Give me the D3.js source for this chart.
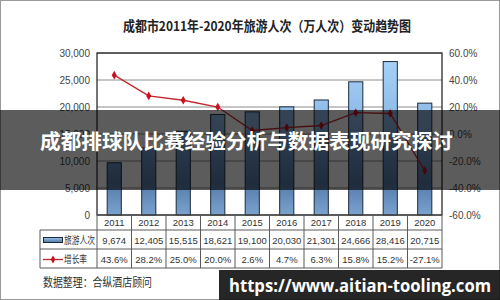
<!DOCTYPE html>
<html><head><meta charset="utf-8">
<script src="https://cdn.jsdelivr.net/npm/d3@7"></script>
<style>html,body{margin:0;padding:0;background:#fff;}svg{display:block;}</style>
</head><body>
<script>
const years = ["2011","2012","2013","2014","2015","2016","2017","2018","2019","2020"];
const visitors = [9674,12405,15515,18621,19100,20030,21301,24666,28416,20715];
const growth = [43.6,28.2,25.0,20.0,2.6,4.7,6.3,15.8,15.2,-27.1];
const leftTicks = [0,5000,10000,15000,20000,25000,30000];
const rightTicks = [-60,-40,-20,0,20,40,60];
const seriesNames = ["旅游人次","增长率"];
const chartTitle = "成都市2011年-2020年旅游人次（万人次）变动趋势图";
const sourceNote = "数据整理：合纵酒店顾问";
const bannerText = "成都排球队比赛经验分析与数据表现研究探讨";
const urlText = "https://www.aitian-tooling.com";

const W = 500, H = 300;
const plot = {l: 97, r: 442, t: 53, b: 215};
const CJK = "'Noto Sans CJK SC','Noto Sans',sans-serif";
const NARROW = "'Liberation Sans Narrow','Liberation Sans',Arial,sans-serif";

const svg = d3.select("body").append("svg").attr("width", W).attr("height", H);
const defs = svg.append("defs");
const grad = defs.append("linearGradient").attr("id","barGrad")
  .attr("gradientUnits","userSpaceOnUse").attr("x1",0).attr("x2",0).attr("y1",plot.t).attr("y2",plot.b);
[[0,"#a9d5fb"],[0.45,"#8ab6e4"],[0.8,"#557ba8"],[1,"#7ba3cf"]].forEach(([o,c]) =>
  grad.append("stop").attr("offset",o).attr("stop-color",c));
const keyGrad = defs.append("linearGradient").attr("id","keyGrad").attr("x1",0).attr("x2",0).attr("y1",0).attr("y2",1);
[[0,"#9cc6ee"],[1,"#4f74a0"]].forEach(([o,c]) => keyGrad.append("stop").attr("offset",o).attr("stop-color",c));

svg.append("rect").attr("x",0.5).attr("y",0.5).attr("width",W-1).attr("height",H-1)
  .attr("fill","#fff").attr("stroke","#9a9a9a");

// title
svg.append("text").attr("x",267).attr("y",31).attr("text-anchor","middle")
  .attr("font-family",CJK).attr("font-weight","bold").attr("font-size",13.5).attr("fill","#222")
  .attr("textLength",288).attr("lengthAdjust","spacingAndGlyphs").text(chartTitle);

const x = d3.scaleBand().domain(years).range([plot.l, plot.r]);
const yL = d3.scaleLinear().domain([0,30000]).range([plot.b, plot.t]);
const yR = d3.scaleLinear().domain([-60,60]).range([plot.b, plot.t]);

// gridlines
svg.append("g").selectAll("line").data(leftTicks).join("line")
  .attr("x1",plot.l).attr("x2",plot.r).attr("y1",d=>yL(d)).attr("y2",d=>yL(d))
  .attr("stroke","#8c8c8c").attr("stroke-width",1);

// axes
const gL = svg.append("g").attr("transform",`translate(${plot.l},0)`)
  .call(d3.axisLeft(yL).tickValues(leftTicks).tickSize(0).tickPadding(7).tickFormat(d3.format(",")));
gL.select(".domain").remove();
gL.selectAll("text").attr("font-family",NARROW).attr("font-size",10).attr("fill","#444");

const gR = svg.append("g").attr("transform",`translate(${plot.r},0)`)
  .call(d3.axisRight(yR).tickValues(rightTicks).tickSize(0).tickPadding(7).tickFormat(d=>d.toFixed(1)+"%"));
gR.select(".domain").remove();
gR.selectAll("text").attr("font-family",NARROW).attr("font-size",10).attr("fill","#444");

// bars
const bw = x.bandwidth()*0.41;
svg.append("g").selectAll("rect").data(visitors).join("rect")
  .attr("x",(d,i)=>x(years[i])+x.bandwidth()/2-bw/2).attr("width",bw)
  .attr("y",d=>yL(d)).attr("height",d=>yL(0)-yL(d))
  .attr("fill","url(#barGrad)").attr("stroke","#1d2b3a").attr("stroke-width",1);

// line
const line = d3.line().x((d,i)=>x(years[i])+x.bandwidth()/2).y(d=>yR(d));
svg.append("path").datum(growth).attr("d",line).attr("fill","none")
  .attr("stroke","#c2262e").attr("stroke-width",1.3);
svg.append("g").selectAll("path").data(growth).join("path")
  .attr("d",d3.symbol(d3.symbolDiamond,22))
  .attr("transform",(d,i)=>`translate(${x(years[i])+x.bandwidth()/2},${yR(d)})`)
  .attr("fill","#c8101e");

// plot frame
svg.append("rect").attr("x",plot.l).attr("y",plot.t).attr("width",plot.r-plot.l).attr("height",plot.b-plot.t)
  .attr("fill","none").attr("stroke","#1a1a1a").attr("stroke-width",1.2);

// data table
const rows = [plot.b, 230, 249, 268];
const tbl = svg.append("g").attr("stroke","#5a5a5a").attr("stroke-width",1);
tbl.append("line").attr("x1",plot.l).attr("x2",plot.r).attr("y1",rows[0]).attr("y2",rows[0]);
[rows[1],rows[2],rows[3]].forEach(y=>tbl.append("line").attr("x1",40).attr("x2",plot.r).attr("y1",y).attr("y2",y));
tbl.append("line").attr("x1",40).attr("x2",40).attr("y1",rows[1]).attr("y2",rows[3]);
years.concat(["end"]).forEach((yv,i)=>{
  const xx = i<years.length ? x(yv) : plot.r;
  tbl.append("line").attr("x1",xx).attr("x2",xx).attr("y1",rows[0]).attr("y2",rows[3]);
});
const cellText = (vals, yc) => svg.append("g").selectAll("text").data(vals).join("text")
  .attr("x",(d,i)=>x(years[i])+x.bandwidth()/2).attr("y",yc).attr("dy","0.35em")
  .attr("text-anchor","middle").attr("font-family",NARROW).attr("font-size",9.5)
  .attr("fill","#333").text(d=>d);
cellText(years, 222.5);
cellText(visitors.map(d3.format(",")), 240.5);
cellText(growth.map(d=>d.toFixed(1)+"%"), 259.5);

// legend keys
svg.append("rect").attr("x",43.5).attr("y",237.5).attr("width",19).attr("height",5)
  .attr("fill","url(#keyGrad)").attr("stroke","#1d2b3a");
svg.append("line").attr("x1",43).attr("x2",63).attr("y1",259.5).attr("y2",259.5)
  .attr("stroke","#c2262e").attr("stroke-width",1.3);
svg.append("path").attr("d",d3.symbol(d3.symbolDiamond,18)).attr("transform","translate(53,259.5)").attr("fill","#c8101e");
svg.append("text").attr("x",64).attr("y",240.5).attr("dy","0.35em").attr("font-family",CJK).attr("font-size",10)
  .attr("fill","#333").attr("textLength",31).attr("lengthAdjust","spacingAndGlyphs").text(seriesNames[0]);
svg.append("text").attr("x",64).attr("y",259.5).attr("dy","0.35em").attr("font-family",CJK).attr("font-size",10)
  .attr("fill","#333").attr("textLength",23).attr("lengthAdjust","spacingAndGlyphs").text(seriesNames[1]);

// source note
svg.append("text").attr("x",43).attr("y",287).attr("font-family",CJK).attr("font-size",12.5)
  .attr("fill","#333").attr("textLength",109).attr("lengthAdjust","spacingAndGlyphs").text(sourceNote);

// overlay banner
svg.append("rect").attr("x",0).attr("y",110).attr("width",W).attr("height",80).attr("fill","rgba(0,0,0,0.64)");
svg.append("text").attr("x",246.5).attr("y",149).attr("text-anchor","middle")
  .attr("font-family",CJK).attr("font-weight","bold").attr("font-size",20.5).attr("fill","#fff")
  .attr("textLength",413).attr("lengthAdjust","spacingAndGlyphs").text(bannerText);

// url box
svg.append("rect").attr("x",219).attr("y",270).attr("width",W-219).attr("height",30).attr("fill","rgba(20,20,20,0.92)");
svg.append("text").attr("x",229).attr("y",292).attr("font-family","'Open Sans','DejaVu Sans',sans-serif")
  .attr("font-weight","bold").attr("font-size",17).attr("fill","#fff")
  .attr("textLength",262).attr("lengthAdjust","spacingAndGlyphs").text(urlText);
</script>
</body></html>
